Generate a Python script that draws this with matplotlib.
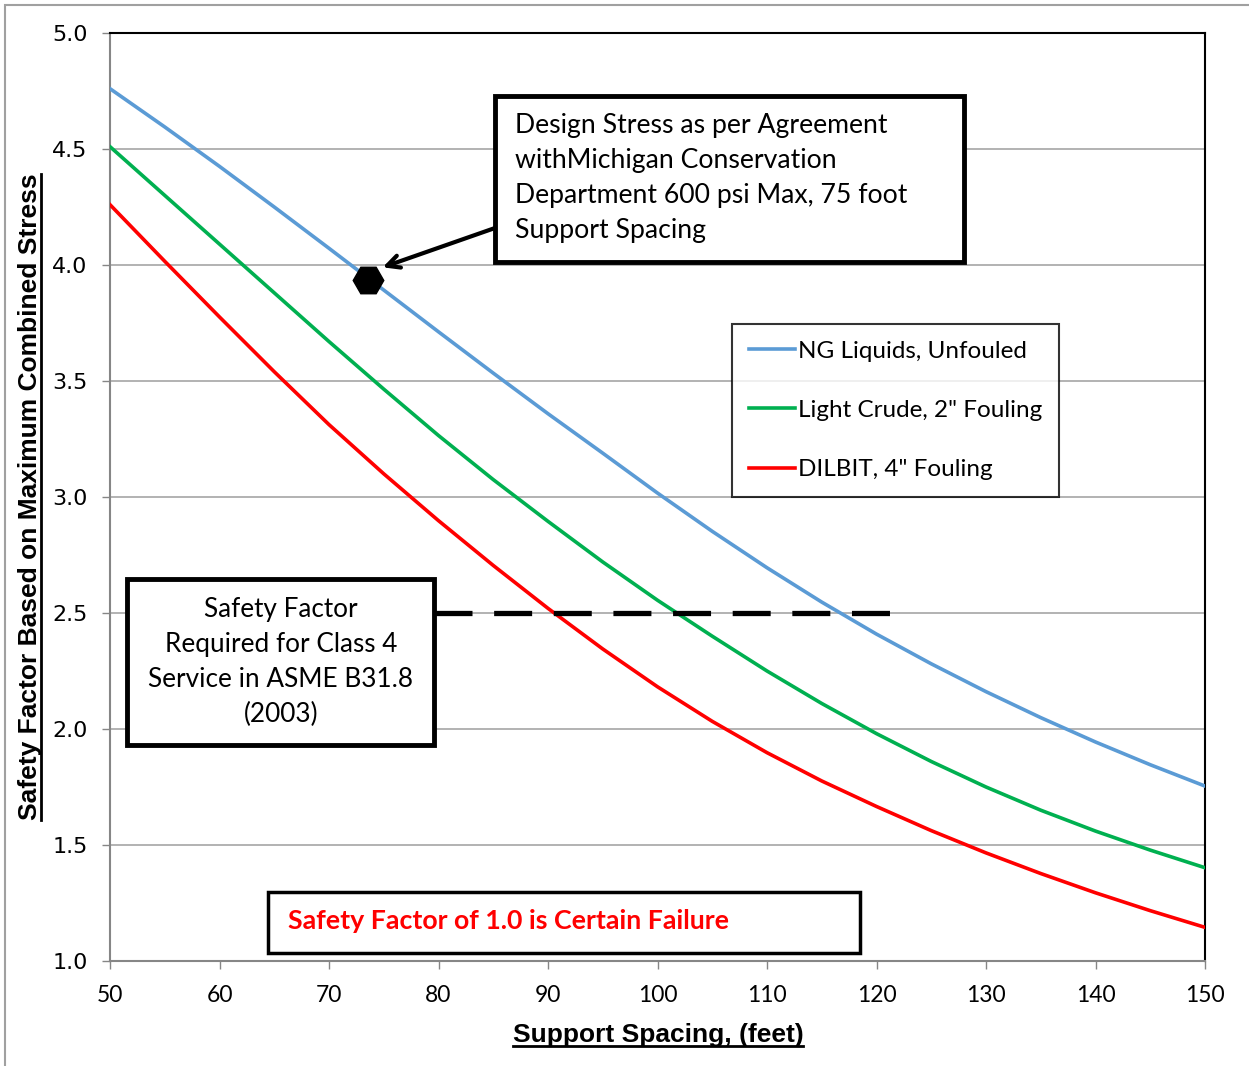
import matplotlib
matplotlib.use('Agg')
import matplotlib.pyplot as plt
from matplotlib.patches import Rectangle
from matplotlib.lines import Line2D

# valores
spacing = [50, 55, 60, 65, 70, 75, 80, 85, 90, 95, 100, 105, 110, 115, 120, 125, 130, 135, 140, 145, 150]
ng_liquids = [4.76, 4.595, 4.425, 4.25, 4.072, 3.892, 3.712, 3.534, 3.359, 3.189, 3.017,
              2.852, 2.695, 2.547, 2.409, 2.281, 2.161, 2.049, 1.944, 1.846, 1.754]
light_crude = [4.51, 4.30, 4.09, 3.88, 3.67, 3.465, 3.265, 3.075, 2.895, 2.72, 2.555,
               2.40, 2.25, 2.11, 1.98, 1.86, 1.75, 1.65, 1.56, 1.478, 1.402]
dilbit = [4.26, 4.016, 3.776, 3.540, 3.312, 3.100, 2.898, 2.705, 2.520, 2.345, 2.182,
          2.033, 1.898, 1.776, 1.666, 1.562, 1.466, 1.377, 1.294, 1.217, 1.145]
series_names = ['NG Liquids, Unfouled', 'Light Crude, 2" Fouling', 'DILBIT, 4" Fouling']
series_colors = ['#5b9bd5', '#00b050', '#ff0000']

design_point = (73.6, 3.935)
required_sf_x = [79.6, 121.5]
required_sf_y = [2.5, 2.5]

x_ticks = list(range(50, 151, 10))
y_ticks = [1.0, 1.5, 2.0, 2.5, 3.0, 3.5, 4.0, 4.5, 5.0]

W, H = 1249, 1066
fig = plt.figure(figsize=(W / 100, H / 100), dpi=100)
ax = fig.add_axes([110 / W, (H - 961) / H, 1095 / W, 928 / H])

for vals, name, col in zip([ng_liquids, light_crude, dilbit], series_names, series_colors):
    ax.plot(spacing, vals, color=col, lw=2.6, label=name, zorder=3, solid_joinstyle='round')

# linea punteada del factor requerido
ax.plot(required_sf_x, required_sf_y, color='black', lw=3.8, dashes=(7.2, 4.1), zorder=4)

# punto de diseno
ax.plot(*design_point, marker='H', markersize=22, color='black', zorder=5)

ax.set_xlim(50, 150)
ax.set_ylim(1.0, 5.0)
ax.set_xticks(x_ticks)
ax.set_yticks(y_ticks)
ax.set_yticklabels(['%.1f' % v for v in y_ticks], fontfamily='DejaVu Sans', fontsize=16)
ax.set_xticklabels([str(v) for v in x_ticks], fontfamily='Lato', fontsize=16.5)
ax.tick_params(axis='both', direction='out', length=6, color='#868686', width=1)
ax.tick_params(axis='x', pad=11)
ax.tick_params(axis='y', pad=10)
ax.grid(axis='y', color='#a6a6a6', lw=1.2)
ax.set_axisbelow(True)
for side in ['top', 'right']:
    ax.spines[side].set_color('black')
    ax.spines[side].set_linewidth(1.5)
for side in ['left', 'bottom']:
    ax.spines[side].set_color('#868686')
    ax.spines[side].set_linewidth(1.5)

# leyenda
leg = ax.legend(loc='upper left', bbox_to_anchor=((732 - 110) / 1095, (961 - 324) / 928),
                prop={'family': 'Lato', 'size': 17.5}, frameon=True, fancybox=False,
                handlelength=1.9, handletextpad=0.15, labelspacing=1.58,
                borderpad=0.68, borderaxespad=0)
leg.get_frame().set_edgecolor('black')
leg.get_frame().set_linewidth(1.5)

# cuadro de esfuerzo de diseno
ax.annotate('', xy=(74.9, 3.99), xytext=(495, H - 228), textcoords='figure pixels',
            arrowprops=dict(arrowstyle='->,head_length=0.9,head_width=0.45', lw=3, color='black',
                            shrinkA=0, shrinkB=0), zorder=6)
fig.patches.append(Rectangle((495, H - 262), 469, 166, transform=None, fill=True,
                             facecolor='white', edgecolor='black', lw=3.5, zorder=5))
fig.text(515 / W, (H - 178) / H,
         'Design Stress as per Agreement\nwithMichigan Conservation\nDepartment 600 psi Max, 75 foot\nSupport Spacing',
         ha='left', va='center', fontsize=19.2, fontfamily='Lato', linespacing=1.5, zorder=7)

# cuadro factor requerido
fig.patches.append(Rectangle((127, H - 745), 307, 166, transform=None, fill=True,
                             facecolor='white', edgecolor='black', lw=3.5, zorder=5))
fig.text(281 / W, (H - 662) / H, 'Safety Factor\nRequired for Class 4\nService in ASME B31.8\n(2003)',
         ha='center', va='center', fontsize=18.8, fontfamily='Lato', linespacing=1.5, zorder=7)

# cuadro de falla
fig.patches.append(Rectangle((268, H - 953), 592, 61, transform=None, fill=True,
                             facecolor='white', edgecolor='black', lw=2.5, zorder=5))
fig.text(288 / W, (H - 921) / H, 'Safety Factor of 1.0 is Certain Failure', ha='left', va='center',
         fontsize=19.3, fontfamily='Lato', fontweight='bold', color='#ff0000', zorder=7)

# borde del grafico
fig.patches.append(Rectangle((5, -10), W + 10, H - 5 + 10, transform=None, fill=False,
                             edgecolor='#a0a0a0', lw=1.5))

# etiquetas de ejes subrayadas
xl = fig.text(658 / W, (H - 1035) / H, 'Support Spacing, (feet)', ha='center', va='center',
              fontsize=19, fontweight='bold', fontfamily=['Liberation Sans Narrow', 'Liberation Sans'])
yl = fig.text(30 / W, (H - 497) / H, 'Safety Factor Based on Maximum Combined Stress', ha='center',
              va='center', rotation=90, fontsize=19, fontweight='bold',
              fontfamily=['Liberation Sans Narrow', 'Liberation Sans'])

fig.canvas.draw()
r = fig.canvas.get_renderer()
bx = xl.get_window_extent(r)
fig.add_artist(Line2D([bx.x0, bx.x1], [bx.y0 + 1, bx.y0 + 1], transform=None, color='black', lw=2))
by = yl.get_window_extent(r)
fig.add_artist(Line2D([by.x1 - 1, by.x1 - 1], [by.y0, by.y1], transform=None, color='black', lw=2))

fig.savefig('out.png', dpi=100)
